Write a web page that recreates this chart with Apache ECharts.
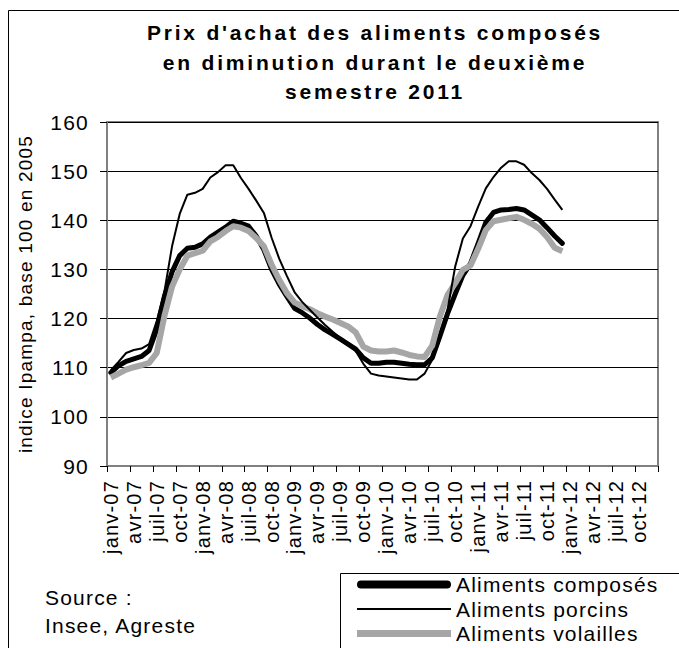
<!DOCTYPE html>
<html>
<head>
<meta charset="utf-8">
<script src="https://cdn.jsdelivr.net/npm/echarts@6/dist/echarts.min.js"></script>
<style>
  html, body { margin: 0; padding: 0; background: #fff; }
  #chart { width: 679px; height: 648px; }
  /* texte espacé façon Excel */
  #chart text { letter-spacing: 1.2px; }
  #chart text[style*="bold"] { letter-spacing: 2.8px; }
</style>
</head>
<body>
<div id="chart"></div>
<script>
  var F = "'Liberation Sans', Arial, sans-serif";

  // axe des mois
  var moisNoms = ['janv', 'févr', 'mars', 'avr', 'mai', 'juin', 'juil', 'août', 'sept', 'oct', 'nov', 'déc'];
  var annees = ['07', '08', '09', '10', '11', '12'];

  // indices mensuels janv-07 -> déc-11
  var composes = [109.0, 110.4, 111.3, 111.8, 112.3, 113.5, 117.8, 124.5, 129.5, 132.8, 134.3, 134.5,
                  135.2, 136.6, 137.6, 138.6, 139.8, 139.4, 138.8, 136.8, 134.0, 130.0, 127.0, 124.5,
                  122.1, 121.2, 120.1, 118.8, 117.7, 116.8, 115.8, 114.8, 113.8, 112.0, 110.9, 110.9,
                  111.1, 111.1, 110.9, 110.7, 110.6, 110.6, 112.0, 116.4, 121.0, 125.0, 128.8, 131.2,
                  135.3, 139.6, 141.6, 142.1, 142.2, 142.4, 142.1, 141.1, 140.1, 138.5, 136.8, 135.3];
  var porcins = [109.5, 111.2, 113.0, 113.6, 113.9, 114.8, 119.5, 125.5, 134.7, 141.3, 145.2, 145.6,
                 146.4, 148.7, 149.8, 151.2, 151.2, 148.6, 146.4, 144.0, 141.5, 136.5, 132.2, 128.7,
                 125.4, 123.4, 121.8, 120.2, 118.7, 117.3, 116.0, 114.6, 113.4, 110.8, 108.8, 108.4,
                 108.2, 108.0, 107.8, 107.6, 107.6, 108.8, 111.6, 115.8, 121.8, 130.6, 136.3, 138.8,
                 142.8, 146.5, 148.8, 150.7, 152.0, 152.0, 151.3, 149.6, 148.2, 146.4, 144.2, 142.1];
  var volailles = [108.0, 108.8, 109.6, 110.1, 110.5, 111.0, 113.0, 120.5, 126.5, 130.0, 132.8, 133.3,
                   133.8, 135.7, 136.6, 137.8, 138.8, 138.5, 137.8, 136.4, 134.7, 131.0, 127.9, 125.2,
                   123.3, 122.5, 121.9, 121.1, 120.4, 119.8, 119.1, 118.4, 117.2, 114.3, 113.5, 113.3,
                   113.3, 113.5, 113.1, 112.6, 112.3, 112.2, 114.5, 120.4, 124.8, 127.2, 129.9, 130.8,
                   134.2, 138.0, 139.8, 140.1, 140.4, 140.7, 140.1, 139.3, 138.3, 136.6, 134.4, 133.7];

  var yMin = 90, yMax = 160, yPas = 10;

  var categories = [];
  annees.forEach(function (a) {
    moisNoms.forEach(function (m) { categories.push(m + '-' + a); });
  });

  var myChart = echarts.init(document.getElementById('chart'), null, { renderer: 'svg' });
  myChart.setOption({
    animation: false,
    backgroundColor: '#fff',
    title: {
      text: "Prix d'achat des aliments composés\nen diminution durant le deuxième\nsemestre 2011",
      left: 375,
      top: 18,
      padding: 0,
      textAlign: 'center',
      textStyle: { fontSize: 21, fontWeight: 'bold', lineHeight: 29.5, color: '#000', fontFamily: F }
    },
    grid: {
      left: 107, right: 21, top: 122, bottom: 182,
      show: true, borderColor: '#808080', borderWidth: 2
    },
    xAxis: {
      type: 'category',
      data: categories,
      boundaryGap: true,
      axisLine: { lineStyle: { color: '#808080', width: 2 } },
      axisTick: { show: true, interval: 2, length: 6, lineStyle: { color: '#000' } },
      axisLabel: { interval: 2, rotate: 90, margin: 14, fontSize: 20, color: '#000', fontFamily: F },
      splitLine: { show: false }
    },
    yAxis: {
      type: 'value',
      min: yMin, max: yMax, interval: yPas,
      name: 'indice Ipampa, base 100 en 2005',
      nameLocation: 'middle',
      nameGap: 72,
      nameTextStyle: { fontSize: 19, color: '#000', fontFamily: F },
      axisLine: { show: true, lineStyle: { color: '#808080', width: 2 } },
      axisTick: { show: true, length: 7, lineStyle: { color: '#000' } },
      axisLabel: { margin: 18, fontSize: 21, color: '#000', fontFamily: F },
      splitLine: { lineStyle: { color: '#000', width: 1 } }
    },
    legend: {
      orient: 'vertical',
      left: 357, top: 574, padding: 0,
      itemWidth: 94, itemHeight: 14, itemGap: 3.5,
      data: [
        { name: 'Aliments composés', icon: 'path://M4,0H90A4,4,0,0,1,90,8H4A4,4,0,0,1,4,0Z',
          itemStyle: { color: '#000', borderWidth: 0 } },
        { name: 'Aliments porcins', icon: 'path://M0,0H94V2H0Z',
          itemStyle: { color: '#000', borderWidth: 0 } },
        { name: 'Aliments volailles', icon: 'path://M0,0H94V7H0Z',
          itemStyle: { color: '#a6a6a6', borderWidth: 0 } }
      ],
      textStyle: { fontSize: 21, color: '#000', fontFamily: F }
    },
    graphic: [
      { type: 'rect', shape: { x: 8.5, y: 10.5, width: 700, height: 700 },
        style: { fill: 'none', stroke: '#000', lineWidth: 1 }, silent: true },
      { type: 'rect', shape: { x: 340.5, y: 573.5, width: 400, height: 200 },
        style: { fill: 'none', stroke: '#000', lineWidth: 1 }, silent: true },
      { type: 'text', x: 45, y: 597,
        style: { text: 'Source :', fontSize: 21, fontFamily: F, fill: '#000', verticalAlign: 'middle' } },
      { type: 'text', x: 45, y: 625,
        style: { text: 'Insee, Agreste', fontSize: 21, fontFamily: F, fill: '#000', verticalAlign: 'middle' } }
    ],
    series: [
      {
        name: 'Aliments composés', type: 'line', data: composes, symbol: 'none',
        lineStyle: { color: '#000', width: 5, cap: 'round', join: 'round' },
        itemStyle: { color: '#000' }
      },
      {
        name: 'Aliments volailles', type: 'line', data: volailles, symbol: 'none',
        lineStyle: { color: '#a6a6a6', width: 6, join: 'round' },
        itemStyle: { color: '#a6a6a6' }
      },
      {
        name: 'Aliments porcins', type: 'line', data: porcins, symbol: 'none',
        lineStyle: { color: '#000', width: 2, join: 'round' },
        itemStyle: { color: '#000' }
      }
    ]
  });
</script>
</body>
</html>
